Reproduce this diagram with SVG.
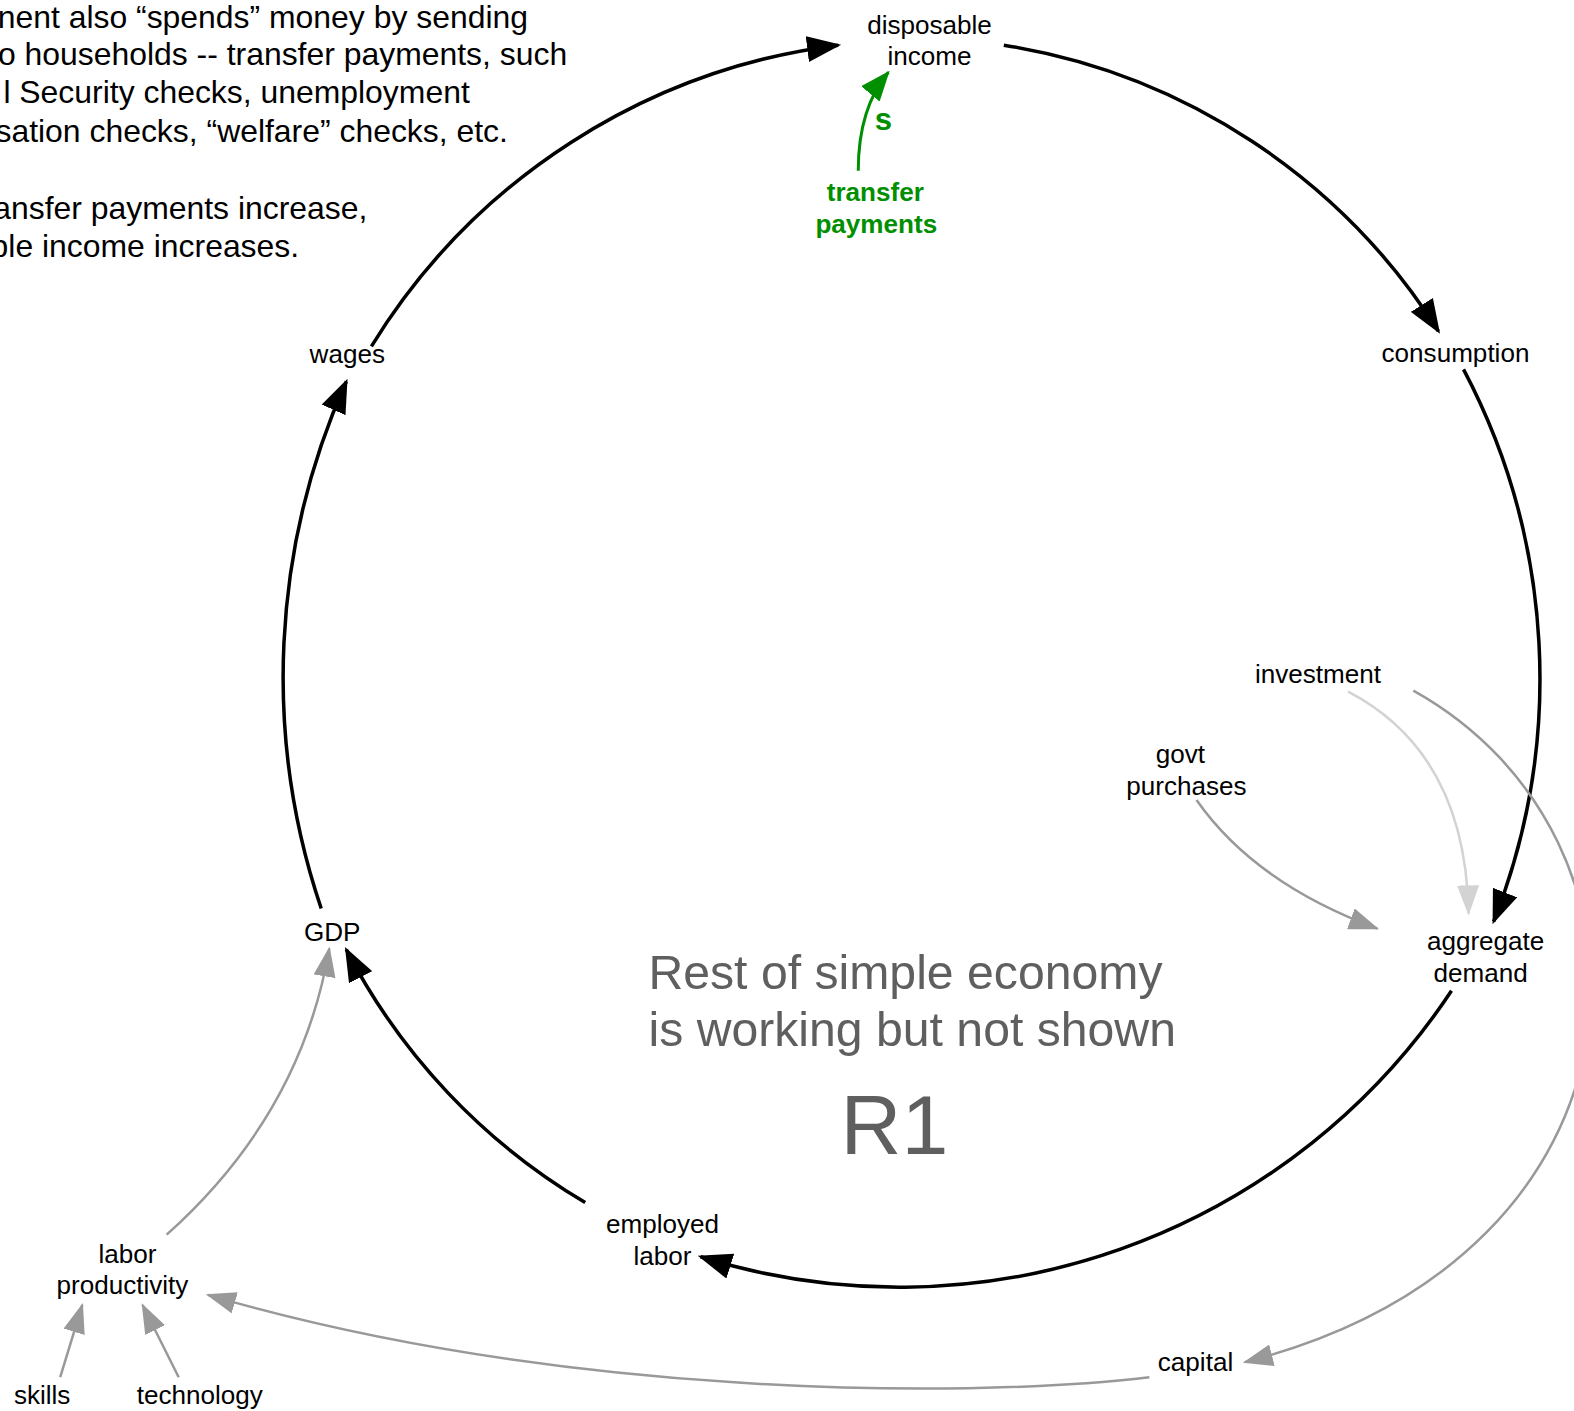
<svg xmlns="http://www.w3.org/2000/svg" width="1574" height="1411" viewBox="0 0 1574 1411">
  <style>
    text { font-family: "Liberation Sans", Arial, sans-serif; }
    .lbl { font-size: 26px; fill: #000; text-anchor: middle; }
    .note { font-size: 31.8px; fill: #000; text-anchor: end; }
    .grn { font-size: 26px; font-weight: bold; fill: #008f00; text-anchor: middle; }
    .pol { font-size: 31px; font-weight: bold; fill: #008f00; text-anchor: middle; }
    .big { font-size: 48px; fill: #5f5f5f; }
    .loop { font-size: 84px; fill: #5f5f5f; text-anchor: middle; }
    .main { fill: none; stroke: #000; stroke-width: 3.5; }
    .side { fill: none; stroke: #999; stroke-width: 2.5; }
    .faint { fill: none; stroke: #d3d3d3; stroke-width: 2.5; }
    .gpath { fill: none; stroke: #008f00; stroke-width: 3; }
  </style>
  <defs>
    <marker id="ah-black" markerUnits="userSpaceOnUse" markerWidth="36" markerHeight="26" refX="31" refY="13" orient="auto">
      <path d="M0,0 L34,13 L0,26 z" fill="#000"/>
    </marker>
    <marker id="ah-gray" markerUnits="userSpaceOnUse" markerWidth="32" markerHeight="22" refX="28" refY="11" orient="auto">
      <path d="M0,0 L30,11 L0,22 z" fill="#999"/>
    </marker>
    <marker id="ah-faint" markerUnits="userSpaceOnUse" markerWidth="32" markerHeight="22" refX="28" refY="11" orient="auto">
      <path d="M0,0 L30,11 L0,22 z" fill="#d3d3d3"/>
    </marker>
    <marker id="ah-green" markerUnits="userSpaceOnUse" markerWidth="32" markerHeight="24" refX="28" refY="12" orient="auto">
      <path d="M0,0 L30,12 L0,24 z" fill="#008f00"/>
    </marker>
  </defs>

  <g id="diagram" transform="scale(1.0038)">
    <!-- explanatory note, top left -->
    <g id="note">
      <text class="note" x="526" y="28">nent also “spends” money by sending</text>
      <text class="note" x="565" y="65">o households -- transfer payments, such</text>
      <text class="note" x="468" y="103">l Security checks, unemployment</text>
      <text class="note" x="506" y="141">sation checks, “welfare” checks, etc.</text>
      <text class="note" x="366" y="218">ansfer payments increase,</text>
      <text class="note" x="298" y="256">ble income increases.</text>
    </g>

    <!-- connectors -->
    <g id="connectors">
      <!-- main reinforcing loop R1 -->
      <path class="main" marker-end="url(#ah-black)" d="M370,345 A640,640 0 0 1 835,45"/>
      <path class="main" marker-end="url(#ah-black)" d="M1000,45 A628,628 0 0 1 1433,330"/>
      <path class="main" marker-end="url(#ah-black)" d="M1458,368 A660,660 0 0 1 1488,918"/>
      <path class="main" marker-end="url(#ah-black)" d="M1446,987 A660,660 0 0 1 698,1252"/>
      <path class="main" marker-end="url(#ah-black)" d="M583,1198 A628,628 0 0 1 345,946"/>
      <path class="main" marker-end="url(#ah-black)" d="M320,905 A720,720 0 0 1 345,380"/>

      <!-- transfer payments -> disposable income -->
      <path class="gpath" marker-end="url(#ah-green)" d="M855,170 Q855,108 885,72"/>
      <text class="pol" x="880" y="130">s</text>

      <!-- exogenous inputs -->
      <path class="side" marker-end="url(#ah-gray)" d="M1192,797 Q1250,880 1372,925"/>
      <path class="faint" marker-end="url(#ah-faint)" d="M1343,689 Q1460,750 1463,910"/>
      <path class="side" marker-end="url(#ah-gray)" d="M1408,688 C1672,835 1660,1250 1240,1357"/>
      <path class="side" marker-end="url(#ah-gray)" d="M1145,1372 C950,1395 550,1390 207,1290"/>
      <path class="side" marker-end="url(#ah-gray)" d="M166,1230 Q300,1110 328,945"/>
      <path class="side" marker-end="url(#ah-gray)" d="M60,1372 L82,1300"/>
      <path class="side" marker-end="url(#ah-gray)" d="M178,1372 L142,1300"/>
    </g>

    <!-- nodes -->
    <g id="disposable-income">
      <text class="lbl" x="926" y="34">disposable</text>
      <text class="lbl" x="926" y="65">income</text>
    </g>
    <g id="transfer-payments">
      <text class="grn" x="872" y="200">transfer</text>
      <text class="grn" x="873" y="232">payments</text>
    </g>
    <g id="wages"><text class="lbl" x="346" y="362">wages</text></g>
    <g id="consumption"><text class="lbl" x="1450" y="361">consumption</text></g>
    <g id="investment"><text class="lbl" x="1313" y="680">investment</text></g>
    <g id="govt-purchases">
      <text class="lbl" x="1176" y="760">govt</text>
      <text class="lbl" x="1182" y="792">purchases</text>
    </g>
    <g id="aggregate-demand">
      <text class="lbl" x="1480" y="946">aggregate</text>
      <text class="lbl" x="1475" y="978">demand</text>
    </g>
    <g id="gdp"><text class="lbl" x="331" y="937">GDP</text></g>
    <g id="employed-labor">
      <text class="lbl" x="660" y="1228">employed</text>
      <text class="lbl" x="660" y="1260">labor</text>
    </g>
    <g id="labor-productivity">
      <text class="lbl" x="127" y="1258">labor</text>
      <text class="lbl" x="122" y="1289">productivity</text>
    </g>
    <g id="skills"><text class="lbl" x="42" y="1399">skills</text></g>
    <g id="technology"><text class="lbl" x="199" y="1399">technology</text></g>
    <g id="capital"><text class="lbl" x="1191" y="1366">capital</text></g>

    <!-- loop annotation -->
    <g id="loop-label">
      <text class="big" x="646" y="985">Rest of simple economy</text>
      <text class="big" x="646" y="1042">is working but not shown</text>
      <text class="loop" x="891" y="1150">R1</text>
    </g>
  </g>
</svg>
